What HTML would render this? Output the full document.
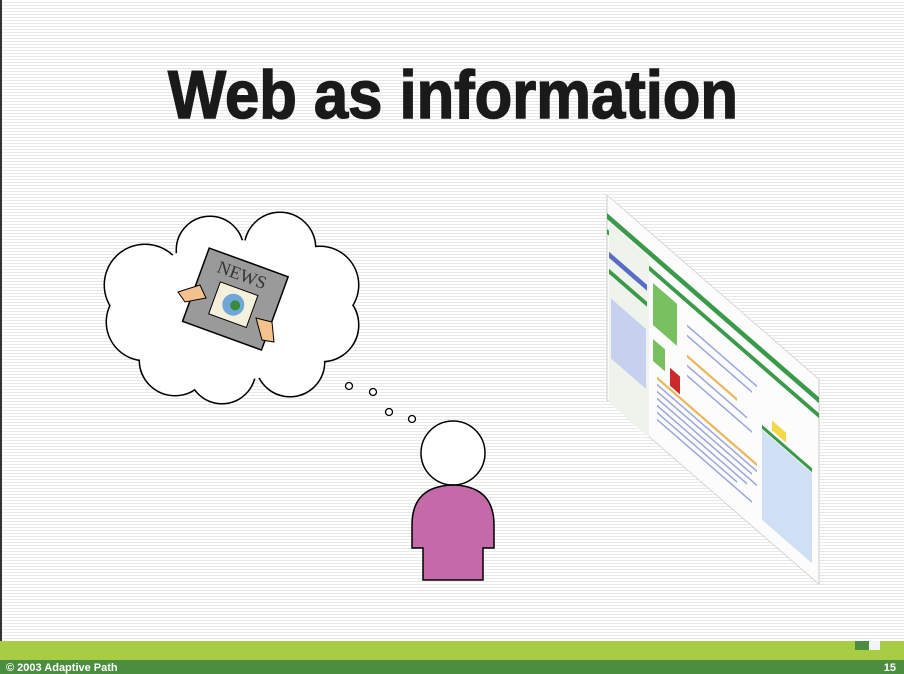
<!DOCTYPE html>
<html><head><meta charset="utf-8"><style>
html,body{margin:0;padding:0}
body{width:904px;height:674px;overflow:hidden;position:relative;
background:repeating-linear-gradient(to bottom,#ffffff 0,#ffffff 2px,#e9e9e9 2px,#e9e9e9 3px);}
svg{position:absolute;left:0;top:0}
</style></head><body>
<svg width="904" height="674" viewBox="0 0 904 674">
<rect x="0" y="0" width="2" height="660" fill="#333"/>
<text x="168" y="118" font-family="Liberation Sans, sans-serif" font-weight="bold" font-size="68" fill="#1a1a1a" stroke="#1a1a1a" stroke-width="1.5" textLength="570" lengthAdjust="spacingAndGlyphs">Web as information</text>

<!-- cloud -->
<g stroke="#000" stroke-width="3" fill="#fff">
<circle cx="210" cy="250" r="33"/><circle cx="280" cy="248" r="35"/>
<circle cx="145" cy="285" r="40"/><circle cx="145" cy="322" r="38"/>
<circle cx="175" cy="360" r="35"/><circle cx="222" cy="370" r="33"/><circle cx="290" cy="362" r="34"/>
<circle cx="320" cy="285" r="38"/><circle cx="322" cy="325" r="36"/>
</g>
<g fill="#fff">
<circle cx="210" cy="250" r="33"/><circle cx="280" cy="248" r="35"/>
<circle cx="145" cy="285" r="40"/><circle cx="145" cy="322" r="38"/>
<circle cx="175" cy="360" r="35"/><circle cx="222" cy="370" r="33"/><circle cx="290" cy="362" r="34"/>
<circle cx="320" cy="285" r="38"/><circle cx="322" cy="325" r="36"/>
<ellipse cx="235" cy="310" rx="100" ry="70"/>
</g>
<!-- newspaper -->
<g transform="translate(235,300) rotate(20)">
<rect x="-42" y="-40" width="84" height="78" fill="#9a9a9a" stroke="#000" stroke-width="1.5"/>
<text x="-2" y="-20" text-anchor="middle" font-family="Liberation Serif, serif" font-size="18" fill="#333">NEWS</text>
<rect x="-20" y="-12" width="40" height="34" fill="#f5f0dc" stroke="#000"/>
<circle cx="0" cy="5" r="11" fill="#6fa8d8"/><circle cx="2" cy="5" r="5" fill="#3a8a3a"/>
</g>
<path d="M178 292 L200 285 L206 298 L185 302 Z" fill="#f4c28c" stroke="#000"/>
<path d="M256 318 L272 322 L274 342 L262 340 Z" fill="#f4c28c" stroke="#000"/>

<!-- bubbles -->
<g fill="#fff" stroke="#000" stroke-width="1.3">
<circle cx="349" cy="386" r="3.5"/><circle cx="373" cy="392" r="3.5"/>
<circle cx="389" cy="412" r="3.5"/><circle cx="412" cy="419" r="3.5"/>
</g>

<!-- person -->
<circle cx="453" cy="453" r="32" fill="#fff" stroke="#000" stroke-width="1.5"/>
<path d="M412 548 L412 525 Q412 486 453 485 Q494 486 494 525 L494 548 L483 548 L483 580 L423 580 L423 548 Z" fill="#c46aa8" stroke="#000" stroke-width="1.5"/>

<!-- webpage -->
<g transform="translate(607,195) skewY(41)">
<rect x="0" y="0" width="212" height="205" fill="#fcfcfc" stroke="#ccc"/>
<rect x="0" y="18" width="212" height="6" fill="#3a9a4a"/>
<rect x="0" y="34" width="212" height="5" fill="#3a9a4a"/>
<rect x="2" y="26" width="40" height="180" fill="#eef4ec"/>
<rect x="2" y="55" width="38" height="6" fill="#5a6cc8"/>
<rect x="2" y="72" width="38" height="5" fill="#3a9a4a"/>
<rect x="4" y="100" width="35" height="60" fill="#c8d0f0"/>
<rect x="46" y="48" width="24" height="42" fill="#78c060"/>
<rect x="46" y="104" width="12" height="22" fill="#78c060"/>
<rect x="63" y="118" width="10" height="18" fill="#cc2a2a"/>
<rect x="155" y="100" width="50" height="90" fill="#cfe0f4"/>
<rect x="155" y="95" width="50" height="4" fill="#3a9a4a"/>
<rect x="165" y="82" width="14" height="10" fill="#f4d84a"/>
<g fill="#9aa8dc">
<rect x="50" y="145" width="100" height="2"/><rect x="50" y="152" width="95" height="2"/>
<rect x="50" y="159" width="100" height="2"/><rect x="50" y="166" width="90" height="2"/>
<rect x="50" y="173" width="80" height="2"/><rect x="50" y="180" width="95" height="2"/>
<rect x="80" y="60" width="70" height="2"/><rect x="80" y="70" width="65" height="2"/>
<rect x="80" y="100" width="60" height="2"/><rect x="80" y="110" width="65" height="2"/>
</g>
<g fill="#e8b860"><rect x="50" y="138" width="100" height="3"/><rect x="80" y="90" width="50" height="3"/></g>
</g>

<!-- footer -->
<rect x="0" y="641" width="904" height="20" fill="#a8cd44"/>
<rect x="855" y="641" width="14" height="9" fill="#4b8e3f"/>
<rect x="869" y="641" width="11" height="9" fill="#f4f4f4"/>
<rect x="0" y="660" width="904" height="14" fill="#4b8e3f"/>
<text x="6" y="671" font-family="Liberation Sans, sans-serif" font-weight="bold" font-size="11" fill="#fff">© 2003 Adaptive Path</text>
<text x="896" y="671" text-anchor="end" font-family="Liberation Sans, sans-serif" font-weight="bold" font-size="11" fill="#fff">15</text>
</svg>
</body></html>
